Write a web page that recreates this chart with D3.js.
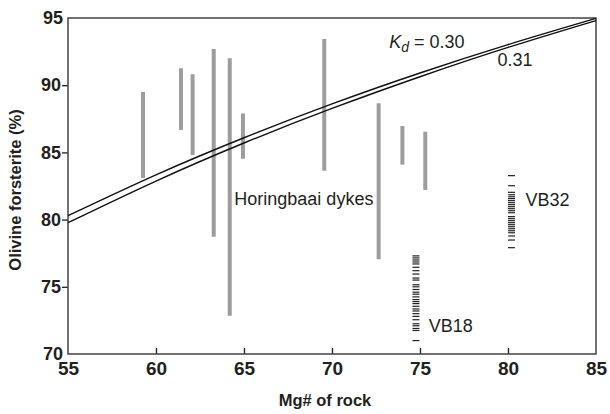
<!DOCTYPE html>
<html>
<head>
<meta charset="utf-8">
<script src="https://cdn.jsdelivr.net/npm/d3@7"></script>
<style>
  body { margin: 0; background: #fff; }
  text { font-family: Arial, "Liberation Sans", Helvetica, sans-serif; fill: #231f20; }
</style>
</head>
<body>
<div id="chart"></div>
<script>
// Horingbaai dykes: Mg# of rock and olivine Fo range (min, max)
var dykeMg  = [59.26, 61.42, 62.08, 63.28, 64.19, 64.94, 69.56, 72.65, 74.0, 75.3];
var dykeMin = [83.1, 86.67, 84.8, 78.73, 72.85, 84.53, 83.64, 77.05, 84.09, 82.2];
var dykeMax = [89.5, 91.26, 90.81, 92.69, 92.0, 87.9, 93.44, 88.65, 86.96, 86.54];

// individual olivine analyses for samples VB18 and VB32
var vb18Mg = 74.77;
var vb18Fo = [77.3, 77.15, 77.0, 76.85, 76.7, 76.45, 76.2, 75.95, 75.65, 75.5,
              75.15, 75.0, 74.8, 74.6, 74.45, 74.25, 74.05, 73.9, 73.75, 73.55,
              73.35, 73.2, 73.0, 72.8, 72.55, 72.25, 72.1, 71.9, 71.75, 71.0];
var vb32Mg = 80.2;
var vb32Fo = [83.27, 82.52, 82.03, 81.85, 81.7, 81.56, 81.41, 81.26, 81.11, 80.96,
              80.81, 80.66, 80.51, 80.22, 80.07, 79.92, 79.77, 79.62, 79.47, 79.32,
              79.17, 79.02, 78.78, 78.48, 77.91];

// equilibrium curves
var curveMg  = [55, 60, 65, 70, 75, 80, 85];
var kd30Fo   = [80.29, 83.33, 86.09, 88.61, 90.91, 93.02, 94.97];
var kd31Fo   = [79.77, 82.87, 85.70, 88.27, 90.63, 92.81, 94.81];

var xTicks = [55, 60, 65, 70, 75, 80, 85];
var yTicks = [70, 75, 80, 85, 90, 95];

var width = 610, height = 414;
var margin = {top: 18, right: 14, bottom: 60, left: 68};

var svg = d3.select("#chart").append("svg")
    .attr("width", width)
    .attr("height", height);

var x = d3.scaleLinear().domain([55, 85]).range([margin.left, width - margin.right]);
var y = d3.scaleLinear().domain([70, 95]).range([height - margin.bottom, margin.top]);

var ink = "#231f20";

// axes
var xAxis = svg.append("g")
    .attr("transform", "translate(0," + (height - margin.bottom) + ")")
    .call(d3.axisBottom(x).tickValues(xTicks).tickSizeInner(-6).tickSizeOuter(0).tickPadding(8));
xAxis.select(".domain").remove();
xAxis.selectAll(".tick line")
    .attr("stroke", ink).attr("stroke-width", 1.3)
    .filter(function(d) { return d === 55 || d === 85; }).remove();
xAxis.selectAll(".tick text")
    .attr("font-size", 19).attr("font-weight", "bold").style("fill", ink);

var yAxis = svg.append("g")
    .attr("transform", "translate(" + margin.left + ",0)")
    .call(d3.axisLeft(y).tickValues(yTicks).tickSizeInner(6).tickSizeOuter(0).tickPadding(1));
yAxis.select(".domain").remove();
yAxis.selectAll(".tick line")
    .attr("stroke", ink).attr("stroke-width", 1.3)
    .filter(function(d) { return d === 70 || d === 95; }).remove();
yAxis.selectAll(".tick text")
    .attr("font-size", 18).attr("font-weight", "bold").style("fill", ink);
yAxis.selectAll(".tick")
    .filter(function(d) { return d === 70 || d === 95; })
    .select("text").attr("x", -5);

// frame
svg.append("rect")
    .attr("x", x(55)).attr("y", y(95))
    .attr("width", x(85) - x(55)).attr("height", y(70) - y(95))
    .attr("fill", "none").attr("stroke", "#444").attr("stroke-width", 1.5);

// axis titles
svg.append("text")
    .attr("x", 325).attr("y", 406)
    .attr("text-anchor", "middle")
    .attr("font-size", 16.5).attr("font-weight", "bold")
    .text("Mg# of rock");

svg.append("text")
    .attr("transform", "translate(21,190) rotate(-90)")
    .attr("text-anchor", "middle")
    .attr("font-size", 16.5).attr("font-weight", "bold")
    .text("Olivine forsterite (%)");

// dyke ranges
var dykes = dykeMg.map(function(m, i) { return {mg: m, lo: dykeMin[i], hi: dykeMax[i]}; });
svg.selectAll(".dyke")
    .data(dykes)
    .enter().append("line")
    .attr("class", "dyke")
    .attr("x1", function(d) { return x(d.mg); })
    .attr("x2", function(d) { return x(d.mg); })
    .attr("y1", function(d) { return y(d.lo); })
    .attr("y2", function(d) { return y(d.hi); })
    .attr("stroke", "#9d9d9f")
    .attr("stroke-width", 4);

// Kd curves
var line = d3.line()
    .x(function(d) { return x(d[0]); })
    .y(function(d) { return y(d[1]); })
    .curve(d3.curveNatural);

[kd30Fo, kd31Fo].forEach(function(fo) {
  svg.append("path")
      .datum(curveMg.map(function(m, i) { return [m, fo[i]]; }))
      .attr("d", line)
      .attr("fill", "none")
      .attr("stroke", "#111")
      .attr("stroke-width", 1.4);
});

// sample analyses as short dashes
function dashes(mg, fo) {
  svg.append("g").selectAll("line")
      .data(fo)
      .enter().append("line")
      .attr("x1", x(mg) - 3.5)
      .attr("x2", x(mg) + 3.5)
      .attr("y1", function(d) { return y(d); })
      .attr("y2", function(d) { return y(d); })
      .attr("stroke", "#222")
      .attr("stroke-width", 1.2);
}
dashes(vb18Mg, vb18Fo);
dashes(vb32Mg, vb32Fo);

// annotations
var kdLabel = svg.append("text")
    .attr("x", x(73.25)).attr("y", y(92.77))
    .attr("font-size", 18);
kdLabel.append("tspan").attr("font-style", "italic").text("K");
kdLabel.append("tspan").attr("font-style", "italic").attr("font-size", 14).attr("dy", 4).text("d");
kdLabel.append("tspan").attr("dy", -4).text(" = 0.30");

svg.append("text")
    .attr("x", x(79.4)).attr("y", y(91.4))
    .attr("font-size", 18)
    .text("0.31");

svg.append("text")
    .attr("x", x(64.45)).attr("y", y(81.05))
    .attr("font-size", 18)
    .text("Horingbaai dykes");

svg.append("text")
    .attr("x", x(81.0)).attr("y", y(81.0))
    .attr("font-size", 18)
    .text("VB32");

svg.append("text")
    .attr("x", x(75.5)).attr("y", y(71.6))
    .attr("font-size", 18)
    .text("VB18");
</script>
</body>
</html>
